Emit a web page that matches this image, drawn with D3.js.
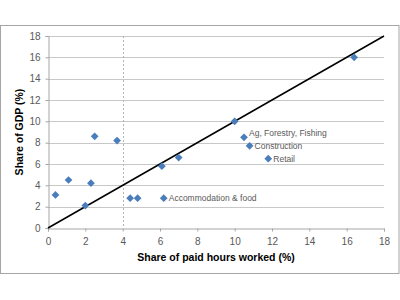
<!DOCTYPE html>
<html>
<head>
<meta charset="utf-8">
<script src="https://cdn.jsdelivr.net/npm/d3@7"></script>
<style>
  body { margin: 0; background: #fff; }
  svg { display: block; }
</style>
</head>
<body>
<div id="showBox" style="width:400px;height:300px"></div>
<script>
// share of paid hours worked (%) vs share of GDP (%)
const hours = [0.4, 1.1, 2.0, 2.3, 2.5, 3.7, 4.4, 4.8, 6.1, 6.2, 7.0, 10.0, 10.5, 10.8, 11.8, 16.4];
const gdp   = [3.1, 4.5, 2.1, 4.2, 8.6, 8.2, 2.8, 2.8, 5.8, 2.8, 6.6, 10.0, 8.5, 7.7, 6.5, 16.0];
const names = ["", "", "", "", "", "", "", "", "", "Accommodation & food", "", "", "Ag, Forestry, Fishing", "Construction", "Retail", ""];
const ticks = [0, 2, 4, 6, 8, 10, 12, 14, 16, 18];
const refLine = [0, 18];
const cutoff = 4;

const width = 400, height = 300;
const margin = {top: 36, right: 16, bottom: 72, left: 48};

const svg = d3.select("#showBox").append("svg")
    .attr("width", width)
    .attr("height", height);

// outer chart border
svg.append("rect")
    .attr("x", 0.5).attr("y", 25.5)
    .attr("width", 398.5).attr("height", 248)
    .attr("fill", "#fff")
    .attr("stroke", "#a6a6a6");

const x = d3.scaleLinear().domain([0, 18]).range([margin.left, width - margin.right]);
const y = d3.scaleLinear().domain([0, 18]).range([height - margin.bottom, margin.top]);

// horizontal gridlines
svg.append("g")
    .selectAll("line")
    .data(ticks.slice(1))
    .join("line")
    .attr("x1", x(0)).attr("x2", x(18))
    .attr("y1", d => Math.round(y(d)) + 0.5)
    .attr("y2", d => Math.round(y(d)) + 0.5)
    .attr("stroke", "#c8c8c8");

// dotted line at 4%
svg.append("line")
    .attr("x1", Math.round(x(cutoff)) + 0.5).attr("x2", Math.round(x(cutoff)) + 0.5)
    .attr("y1", y(18)).attr("y2", y(0))
    .attr("stroke", "#b4b4b4")
    .attr("stroke-dasharray", "2,2");

const xAxis = svg.append("g")
    .attr("transform", `translate(0,${Math.round(y(0)) + 0.5})`)
    .call(d3.axisBottom(x).tickValues(ticks).tickSize(3).tickPadding(6));

const yAxis = svg.append("g")
    .attr("transform", `translate(${Math.round(x(0)) + 0.5},0)`)
    .call(d3.axisLeft(y).tickValues(ticks).tickSize(3).tickPadding(5));

[xAxis, yAxis].forEach(g => {
    g.select(".domain").attr("stroke", "#a6a6a6");
    g.selectAll(".tick line").attr("stroke", "#a6a6a6");
    g.selectAll(".tick text")
        .attr("fill", "#595959")
        .style("font", "10px 'Liberation Sans', sans-serif");
});

// 45 degree reference line
svg.append("line")
    .attr("x1", x(refLine[0])).attr("y1", y(refLine[0]))
    .attr("x2", x(refLine[1])).attr("y2", y(refLine[1]))
    .attr("stroke", "#000")
    .attr("stroke-width", 1.5);

const points = hours.map((h, i) => ({h, g: gdp[i], name: names[i]}));

svg.append("g")
    .selectAll("path")
    .data(points)
    .join("path")
    .attr("d", d3.symbol(d3.symbolSquare, 30))
    .attr("transform", d => `translate(${x(d.h)},${y(d.g)}) rotate(45)`)
    .attr("fill", "#4a7ebb");

svg.append("g")
    .selectAll("text")
    .data(points.filter(d => d.name))
    .join("text")
    .attr("x", d => x(d.h) + 5)
    .attr("y", d => y(d.g) - (d.name.startsWith("Ag") ? 4 : 0))
    .attr("dy", "0.35em")
    .attr("fill", "#595959")
    .style("font", "8.5px 'Liberation Sans', sans-serif")
    .text(d => d.name);

// axis titles
svg.append("text")
    .attr("x", (x(0) + x(18)) / 2)
    .attr("y", 257)
    .attr("dy", "0.35em")
    .attr("text-anchor", "middle")
    .style("font", "bold 10.5px 'Liberation Sans', sans-serif")
    .text("Share of paid hours worked (%)");

svg.append("text")
    .attr("transform", `translate(19,${(y(0) + y(18)) / 2}) rotate(-90)`)
    .attr("dy", "0.35em")
    .attr("text-anchor", "middle")
    .style("font", "bold 10.5px 'Liberation Sans', sans-serif")
    .text("Share of GDP (%)");
</script>
</body>
</html>
